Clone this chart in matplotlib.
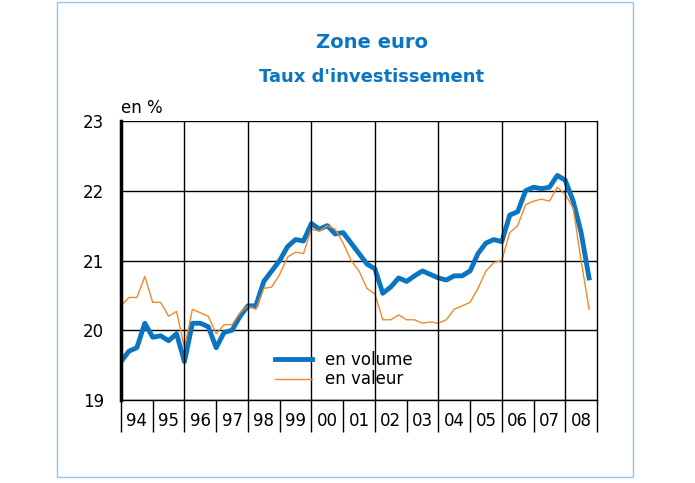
import numpy as np
import matplotlib.pyplot as plt
from matplotlib.patches import Rectangle

# Quarterly data, 1994Q1 - 2008Q4
years = ["94", "95", "96", "97", "98", "99", "00", "01", "02", "03", "04", "05", "06", "07", "08"]
volume = [19.55, 19.7, 19.75, 20.1, 19.9, 19.92, 19.85, 19.95,
          19.55, 20.1, 20.1, 20.05, 19.75, 19.97, 20.0, 20.2,
          20.35, 20.35, 20.7, 20.85, 21.0, 21.2, 21.3, 21.28,
          21.53, 21.45, 21.5, 21.38, 21.4, 21.25, 21.1, 20.95,
          20.88, 20.53, 20.62, 20.75, 20.7, 20.78, 20.85, 20.8,
          20.75, 20.72, 20.78, 20.78, 20.85, 21.1, 21.25, 21.3,
          21.27, 21.65, 21.7, 22.0, 22.05, 22.03, 22.05, 22.22,
          22.15, 21.85, 21.4, 20.75]
valeur = [20.35, 20.47, 20.47, 20.77, 20.4, 20.4, 20.2, 20.27,
          19.75, 20.3, 20.25, 20.2, 19.95, 20.08, 20.08, 20.25,
          20.35, 20.3, 20.6, 20.62, 20.8, 21.05, 21.12, 21.1,
          21.45, 21.42, 21.5, 21.45, 21.25, 21.0, 20.85, 20.6,
          20.52, 20.15, 20.15, 20.22, 20.15, 20.15, 20.1, 20.12,
          20.1, 20.15, 20.3, 20.35, 20.4, 20.6, 20.85, 20.97,
          21.0, 21.4, 21.5, 21.8, 21.85, 21.88, 21.85, 22.05,
          21.95, 21.75, 21.0, 20.3]

blue = "#0a75c2"
orange = "#f08a24"

fig = plt.figure(figsize=(6.95, 4.83), dpi=100)
fig.patches.append(Rectangle((57 / 695, 6 / 483), 576 / 695, 475 / 483, transform=fig.transFigure,
                             fill=False, edgecolor="#8fc8e8", linewidth=1))
fig.text(0.535, 0.9, "Zone euro", ha="center", color=blue, fontsize=14, fontweight="bold")
fig.text(0.535, 0.83, "Taux d'investissement", ha="center", color=blue, fontsize=13, fontweight="bold")

ax = fig.add_axes([121 / 695, 1 - 400 / 483, 476 / 695, 279 / 483])
x = np.arange(len(volume)) / 4
ax.plot(x, volume, color=blue, linewidth=3.5, label="en volume")
ax.plot(x, valeur, color=orange, linewidth=1, label="en valeur")

ax.set_xlim(0, 15)
ax.set_ylim(19, 23)
ax.set_yticks([19, 20, 21, 22, 23])
ax.tick_params(axis="y", length=0, labelsize=12, pad=12)
ax.grid(axis="y", color="black", linewidth=1)
for xv in range(2, 15, 2):
    ax.axvline(xv, color="black", linewidth=1)
ax.set_xticks(range(16))
ax.set_xticklabels([])
ax.tick_params(axis="x", direction="out", length=23, width=1)
ax.set_xticks(np.arange(15) + 0.5, minor=True)
ax.set_xticklabels(years, minor=True)
ax.tick_params(axis="x", which="minor", length=0, labelsize=12, pad=9)
ax.spines["left"].set_linewidth(2.5)
ax.spines["top"].set_visible(False)
ax.spines["right"].set_linewidth(1)
ax.spines["bottom"].set_linewidth(1)
ax.text(0, 1.03, "en %", transform=ax.transAxes, fontsize=12)
ax.legend(loc="lower left", bbox_to_anchor=(0.3, 0.0), frameon=False, fontsize=12,
          handlelength=2.2, borderpad=0.2, labelspacing=0.1)

fig.savefig("out.png")
